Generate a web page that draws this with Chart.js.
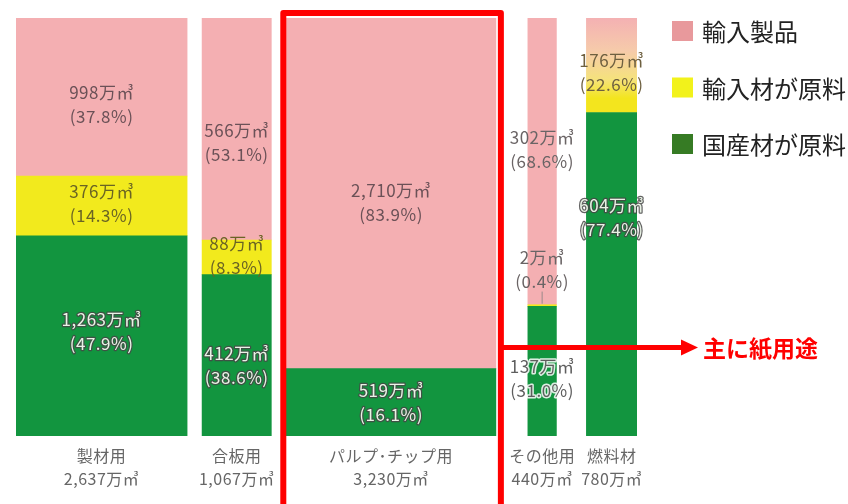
<!DOCTYPE html>
<html><head><meta charset="utf-8">
<script src="https://cdn.jsdelivr.net/npm/chart.js@4/dist/chart.umd.min.js"></script>
<style>html,body{margin:0;padding:0;background:#fff;}canvas{display:block;}</style>
</head><body>
<canvas id="c" width="848" height="504"></canvas>
<script>
// ---- data ----
const categories = ['製材用', '合板用', 'パルプ･チップ用', 'その他用', '燃料材'];
const categoryTotals = [2637, 1067, 3230, 440, 780];           // 万㎥
const importProducts = [998, 566, 2710, 302, null];            // 輸入製品
const importProductsPct = [37.8, 53.1, 83.9, 68.6, null];
const importedMaterial = [376, 88, null, 2, null];             // 輸入材が原料
const importedMaterialPct = [14.3, 8.3, null, 0.4, null];
const domesticMaterial = [1263, 412, 519, 137, 604];           // 国産材が原料
const domesticMaterialPct = [47.9, 38.6, 16.1, 31.0, 77.4];
const fuelImported = [null, null, null, null, 176];            // 燃料材の輸入分
const fuelImportedPct = [null, null, null, null, 22.6];
const seriesNames = ['輸入製品', '輸入材が原料', '国産材が原料'];

// ---- layout / style ----
const GAPS = [231, 231, 493, 462];   // space between bars, in x-scale units
const FONT = '"Noto Sans CJK JP", "Noto Sans", sans-serif';
const C_PINK = '#F4AFB2', C_YELLOW = '#F2EA1D', C_GREEN = '#12953F';

const edges = [];
let pos = 0;
categoryTotals.forEach((t, i) => { edges.push([pos, pos + t]); pos += t + (GAPS[i] || 0); });
const X_MAX = pos;

function pts(vals, pcts) {
  const out = [];
  vals.forEach((v, i) => {
    if (v != null) out.push({ x: (edges[i][0] + edges[i][1]) / 2, y: pcts[i], v: v, p: pcts[i], i: i });
  });
  return out;
}

// label vertical offsets (px) from segment centre
const labelOffsets = {
  dom: [-4, 10, 0, 7, -57],
  mat: [-2, -2, 0, -36, 0],
  imp: [8, 14, 9, -12, 0],
  fuel: [0, 0, 0, 0, 7]
};

const fuelGradient = (ctx) => {
  const chart = ctx.chart;
  if (!chart.chartArea) return C_PINK;
  const y = chart.scales.y;
  const top = y.getPixelForValue(100), bot = y.getPixelForValue(77.4);
  const g = chart.ctx.createLinearGradient(0, top, 0, bot);
  g.addColorStop(0, '#F4B1B3');
  g.addColorStop(0.35, '#F6CBAA');
  g.addColorStop(0.65, '#F5E27C');
  g.addColorStop(0.85, '#F3E51E');
  g.addColorStop(1, '#F3E51E');
  return g;
};

const datasets = [
  { key: 'dom', label: seriesNames[2], data: pts(domesticMaterial, domesticMaterialPct), backgroundColor: C_GREEN },
  { key: 'mat', label: seriesNames[1], data: pts(importedMaterial, importedMaterialPct), backgroundColor: C_YELLOW },
  { key: 'imp', label: seriesNames[0], data: pts(importProducts, importProductsPct), backgroundColor: C_PINK },
  { key: 'fuel', label: '燃料材（輸入）', data: pts(fuelImported, fuelImportedPct), backgroundColor: fuelGradient }
].map(d => Object.assign(d, { borderWidth: 0, barPercentage: 1, categoryPercentage: 1 }));

const legendItems = [
  { text: seriesNames[0], color: '#E8999C' },
  { text: seriesNames[1], color: '#F2F21B' },
  { text: seriesNames[2], color: '#367B24' }
];

const mekko = {
  id: 'mekko',
  afterDatasetsUpdate(chart) {
    const xs = chart.scales.x;
    chart.data.datasets.forEach((ds, di) => {
      const meta = chart.getDatasetMeta(di);
      meta.data.forEach((el, j) => {
        const i = ds.data[j].i;
        const l = xs.getPixelForValue(edges[i][0]);
        const r = xs.getPixelForValue(edges[i][1]);
        el.x = (l + r) / 2;
        el.width = r - l;
      });
    });
  }
};

function drawTwoLines(ctx, x, cy, l1, l2, mode, color) {
  const yy = [cy - 12, cy + 12];
  [l1, l2].forEach((t, k) => {
    if (mode === 'outline') {
      ctx.lineJoin = 'round';
      ctx.lineWidth = 2.5; ctx.strokeStyle = 'rgba(70,70,70,0.85)';
      ctx.strokeText(t, x, yy[k]);
      ctx.fillStyle = '#EAF3E6';
      ctx.fillText(t, x, yy[k]);
    } else if (mode === 'halo') {
      ctx.lineJoin = 'round';
      ctx.lineWidth = 3; ctx.strokeStyle = 'rgba(255,255,255,0.85)';
      ctx.strokeText(t, x, yy[k]);
      ctx.fillStyle = color;
      ctx.fillText(t, x, yy[k]);
    } else {
      ctx.fillStyle = color;
      ctx.fillText(t, x, yy[k]);
    }
  });
}

const labels = {
  id: 'labels',
  afterDatasetsDraw(chart) {
    const ctx = chart.ctx;
    const xs = chart.scales.x;
    ctx.save();
    ctx.font = '17px ' + FONT;
    ctx.letterSpacing = '0.5px';
    ctx.textAlign = 'center';
    ctx.textBaseline = 'middle';
    chart.data.datasets.forEach((ds, di) => {
      const meta = chart.getDatasetMeta(di);
      meta.data.forEach((el, j) => {
        const d = ds.data[j];
        const i = d.i;
        const cy = (el.y + el.base) / 2 + labelOffsets[ds.key][i];
        const l1 = d.v.toLocaleString('en-US') + '万㎥';
        const l2 = '(' + d.p.toFixed(1) + '%)';
        let mode = 'plain', color = '#6B5157';
        if (ds.key === 'dom') { mode = (i === 3) ? 'halo' : 'outline'; color = '#5E5E5E'; }
        if (ds.key === 'mat') color = (i === 3) ? '#6A6465' : '#6A6424';
        if (ds.key === 'imp' && i === 3) color = '#6A6465';
        if (ds.key === 'fuel') color = '#6E6040';
        drawTwoLines(ctx, el.x, cy, l1, l2, mode, color);
        if (ds.key === 'mat' && i === 3) {
          ctx.strokeStyle = '#9A8A8A'; ctx.lineWidth = 1;
          ctx.beginPath(); ctx.moveTo(el.x, cy + 22); ctx.lineTo(el.x, el.y - 1); ctx.stroke();
        }
      });
    });
    // category captions
    ctx.font = '16px ' + FONT;
    ctx.letterSpacing = '0.5px';
    ctx.fillStyle = '#666';
    categories.forEach((c, i) => {
      const cx = (xs.getPixelForValue(edges[i][0]) + xs.getPixelForValue(edges[i][1])) / 2;
      ctx.fillText(c, cx, 456);
      ctx.fillText(categoryTotals[i].toLocaleString('en-US') + '万㎥', cx, 479);
    });
    ctx.restore();
  },
  afterDraw(chart) {
    const ctx = chart.ctx;
    const xs = chart.scales.x;
    const ys = chart.scales.y;
    ctx.save();
    // legend
    ctx.font = '24px ' + FONT;
    ctx.textAlign = 'left';
    ctx.textBaseline = 'middle';
    legendItems.forEach((it, k) => {
      const top = 21 + k * 56.5;
      ctx.fillStyle = it.color;
      ctx.fillRect(672, top, 21, 20);
      ctx.fillStyle = '#222';
      ctx.fillText(it.text, 702, top + 11);
    });
    // red frame around pulp bar
    const l = xs.getPixelForValue(edges[2][0]);
    const r = xs.getPixelForValue(edges[2][1]);
    const t = ys.getPixelForValue(100);
    ctx.strokeStyle = '#FF0000';
    ctx.lineWidth = 6;
    ctx.lineJoin = 'round';
    ctx.beginPath();
    ctx.moveTo(l - 3, 520);
    ctx.lineTo(l - 3, t - 5);
    ctx.lineTo(r + 5, t - 5);
    ctx.lineTo(r + 5, 520);
    ctx.stroke();
    // arrow
    const ay = 347.5;
    ctx.lineWidth = 5;
    ctx.beginPath(); ctx.moveTo(r + 5, ay); ctx.lineTo(684, ay); ctx.stroke();
    ctx.fillStyle = '#FF0000';
    ctx.beginPath(); ctx.moveTo(681, ay - 8); ctx.lineTo(698, ay); ctx.lineTo(681, ay + 8); ctx.closePath(); ctx.fill();
    ctx.font = 'bold 23px ' + FONT;
    ctx.fillText('主に紙用途', 703, ay + 1);
    ctx.restore();
  }
};

new Chart(document.getElementById('c'), {
  type: 'bar',
  data: { datasets: datasets },
  options: {
    responsive: false,
    animation: false,
    events: [],
    layout: { padding: { left: 16, right: 211, top: 18, bottom: 68 } },
    scales: {
      x: { type: 'linear', min: 0, max: X_MAX, stacked: true, display: false, offset: false },
      y: { min: 0, max: 100, stacked: true, display: false }
    },
    plugins: { legend: { display: false }, tooltip: { enabled: false } }
  },
  plugins: [mekko, labels]
});
</script>
</body></html>
